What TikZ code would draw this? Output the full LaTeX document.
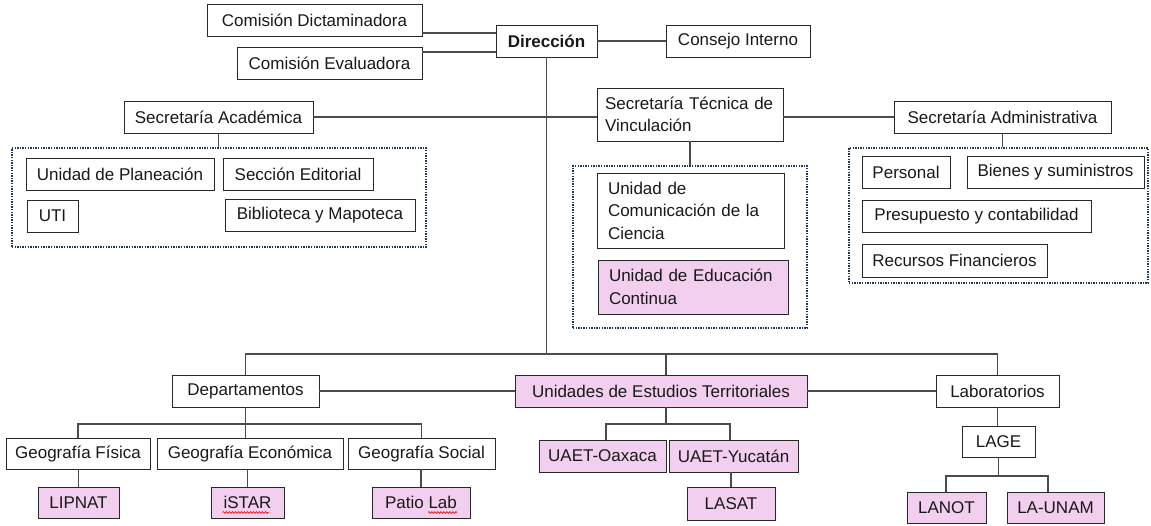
\documentclass[tikz,border=0pt]{standalone}
\usepackage{fontspec}
\setmainfont{Liberation Sans}
\usetikzlibrary{decorations.pathmorphing}
\definecolor{pinkfill}{RGB}{242,206,239}
\definecolor{boxline}{RGB}{40,40,40}
\definecolor{connline}{RGB}{75,75,75}
\definecolor{dotline}{RGB}{30,55,80}
\definecolor{txt}{RGB}{25,25,25}
\newcommand{\bx}[7]{\node[#6, minimum width={(#4)-(#2)}, minimum height={(#5)-(#3)}] (#1) at ({((#2)+(#4))/2},{((#3)+(#5))/2}) {#7};}
\tikzset{
  box/.style={draw=boxline, line width=0.9pt, fill=white, inner sep=0pt, text=txt, font=\fontsize{17}{22.5}\selectfont},
  pbox/.style={box, fill=pinkfill},
  lbox/.style={box, align=left, text width=#1},
  plbox/.style={pbox, align=left, text width=#1},
  conn/.style={draw=connline, line width=1.1pt},
  grp/.style={draw=dotline, line width=1.6pt, dash pattern=on 1.4pt off 1.2pt, inner sep=0pt},
  squig/.style={draw=red!85!black, line width=0.6pt, decorate, decoration={snake, amplitude=0.9pt, segment length=3pt}}
}
\begin{document}
\begin{tikzpicture}[x=1pt,y=-1pt]
\useasboundingbox (0,0) rectangle (1151,525);
% groups
\bx{gA}{12}{148}{426}{247}{grp}{}
\bx{gV}{573}{166}{807}{328}{grp}{}
\bx{gD}{849}{148}{1148}{283}{grp}{}
% top
\bx{dict}{207}{4}{422}{36}{box}{Comisión Dictaminadora}
\bx{eval}{237}{47}{422}{79}{box}{Comisión Evaluadora}
\bx{dir}{496}{25}{597}{57}{box}{\textbf{Dirección}}
\bx{cons}{666}{25}{810}{57}{box}{Consejo Interno}
% secretarias
\bx{sa}{124}{101}{313}{133}{box}{Secretaría Académica}
\bx{stv}{597}{88}{783}{141}{lbox=170}{Secretaría Técnica de\\Vinculación}
\bx{sadm}{894}{101}{1111}{133}{box}{Secretaría Administrativa}
% academica
\bx{up}{26}{158}{214}{190}{box}{Unidad de Planeación}
\bx{se}{223}{158}{373}{190}{box}{Sección Editorial}
\bx{uti}{27}{200}{78}{232}{box}{UTI}
\bx{bib}{225}{199}{415}{231}{box}{Biblioteca y Mapoteca}
% vinculacion
\bx{ucc}{597}{173}{784}{248}{lbox=165}{Unidad de\\Comunicación de la\\Ciencia}
\bx{uec}{598}{260}{788}{314}{plbox=168}{Unidad de Educación\\Continua}
% administrativa
\bx{pers}{862}{156}{950}{188}{box}{Personal}
\bx{bien}{967}{156}{1144}{188}{box}{Bienes y suministros}
\bx{pres}{862}{200}{1091}{232}{box}{Presupuesto y contabilidad}
\bx{rec}{862}{244}{1047}{277}{box}{Recursos Financieros}
% bottom level
\bx{dep}{172}{375}{319}{407}{box}{Departamentos}
\bx{uet}{515}{375}{807}{407}{pbox}{Unidades de Estudios Territoriales}
\bx{lab}{936}{375}{1059}{407}{box}{Laboratorios}
\bx{gf}{6}{438}{150}{469}{box}{Geografía Física}
\bx{ge}{157}{438}{343}{469}{box}{Geografía Económica}
\bx{gs}{348}{438}{495}{469}{box}{Geografía Social}
\bx{lipnat}{38}{487}{119}{518}{pbox}{LIPNAT}
\bx{istar}{211}{487}{284}{518}{pbox}{iSTAR}
\bx{patio}{372}{487}{470}{518}{pbox}{Patio Lab}
\bx{oax}{539}{440}{666}{472}{pbox}{UAET-Oaxaca}
\bx{yuc}{669}{440}{798}{472}{pbox}{UAET-Yucatán}
\bx{lasat}{687}{487}{775}{520}{pbox}{LASAT}
\bx{lage}{962}{426}{1035}{457}{box}{LAGE}
\bx{lanot}{907}{492}{986}{523}{pbox}{LANOT}
\bx{launam}{1007}{492}{1104}{523}{pbox}{LA-UNAM}
% coordinates
\coordinate (d1) at (422,33);
\coordinate (e1) at (422,52);
\coordinate (bus) at (0,354);
\coordinate (ux) at (666,0);
\coordinate (gbus) at (0,424);
\coordinate (ob) at (606,424);
\coordinate (yb) at (730,424);
\coordinate (b4l) at (946,476);
\coordinate (b4r) at (1048,476);
% connectors top
\draw[conn] (d1) -- (d1 -| dir.west);
\draw[conn] (e1) -- (e1 -| dir.west);
\draw[conn] (dir.east) -- (cons.west);
\draw[conn] (sa.east) -- (sa.east -| stv.west);
\draw[conn] (sadm.west -| stv.east) -- (sadm.west);
\draw[conn] (sa.south) -- (sa.south |- gA.north);
\draw[conn] (stv.south) -- (stv.south |- gV.north);
\draw[conn] (sadm.south) -- (sadm.south |- gD.north);
% trunk and bus
\draw[conn] (dir.south) -- (dir.south |- bus);
\draw[conn] (dep.north) |- (lab.north |- bus) -- (lab.north);
\draw[conn] (ux |- bus) -- (ux |- uet.north);
\draw[conn] (dep.east) -- (uet.west);
\draw[conn] (uet.east) -- (lab.west);
% departamentos
\draw[conn] (dep.south) -- (dep.south |- ge.north);
\draw[conn] (gf.north) |- (gs.north |- gbus) -- (gs.north);
\draw[conn] (lipnat.north |- gf.south) -- (lipnat.north);
\draw[conn] (istar.north |- ge.south) -- (istar.north);
\draw[conn] (patio.north |- gs.south) -- (patio.north);
% UET
\draw[conn] (ux |- uet.south) -- (ux |- gbus);
\draw[conn] (oax.north -| ob) -- (ob) -- (yb) -- (yuc.north -| yb);
\draw[conn] (lasat.north |- yuc.south) -- (lasat.north);
% labs
\draw[conn] (lab.south) -- (lab.south |- lage.north);
\draw[conn] (lage.south) -- (lage.south |- b4l);
\draw[conn] (lanot.north -| b4l) -- (b4l) -- (b4r) -- (launam.north -| b4r);
% spell-check marks
\draw[squig] ([xshift=-25pt,yshift=-10pt]istar.center) -- ([xshift=21pt,yshift=-10pt]istar.center);
\draw[squig] ([xshift=7pt,yshift=-10pt]patio.center) -- ([xshift=36pt,yshift=-10pt]patio.center);
\end{tikzpicture}
\end{document}
